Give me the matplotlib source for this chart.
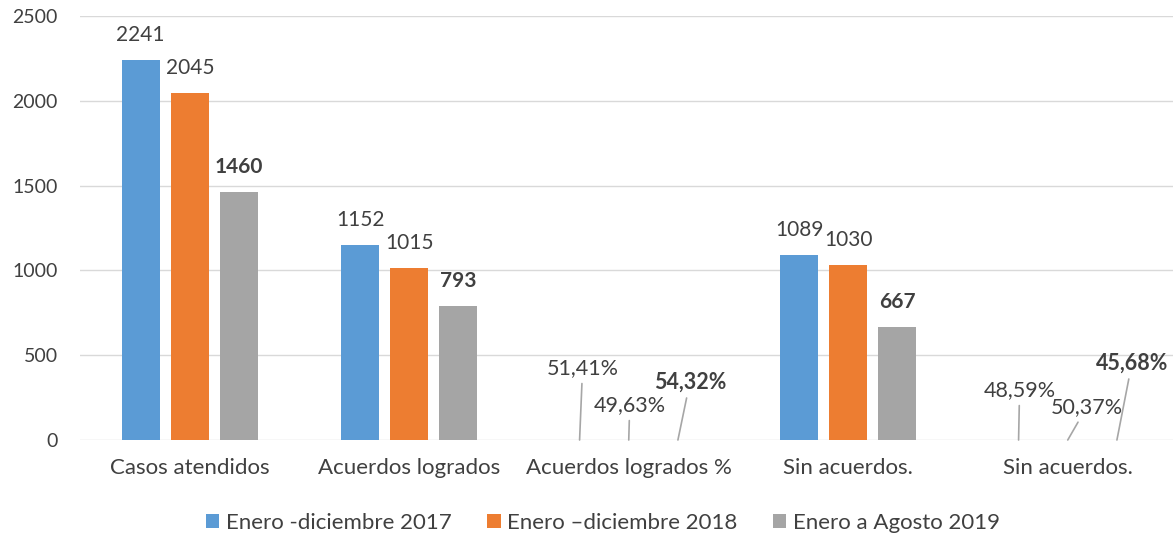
import matplotlib
matplotlib.use("Agg")
import matplotlib.pyplot as plt
import numpy as np

categories = ["Casos atendidos", "Acuerdos logrados", "Acuerdos logrados %", "Sin acuerdos.", "Sin acuerdos."]
series_names = ["Enero -diciembre 2017", "Enero \u2013diciembre 2018", "Enero a Agosto 2019"]
s2017 = [2241, 1152, 0.5141, 1089, 0.4859]
s2018 = [2045, 1015, 0.4963, 1030, 0.5037]
s2019 = [1460, 793, 0.5432, 667, 0.4568]
colors = ["#5B9BD5", "#ED7D31", "#A5A5A5"]
pct_categories = [2, 4]

plt.rcParams['font.family'] = ['Lato', 'DejaVu Sans']
TXT = "#404040"

fig = plt.figure(figsize=(11.73, 5.38), dpi=100)
ax = fig.add_axes([80/1173, 1-440/538, 1097.5/1173, 424/538])
ax.set_xlim(-0.5, 4.5)
ax.set_ylim(0, 2500)

x = np.arange(len(categories))
step = 0.224
width = 0.173
all_series = [s2017, s2018, s2019]

# percentage label offsets (pixels) for each pct category and series
pct_offsets = {
    2: [(3, 72), (1, 35), (12, 58)],
    4: [(1, 50), (19, 33), (15, 77)],
}

for i, (vals, name, c) in enumerate(zip(all_series, series_names, colors)):
    xs = x + (i - 1) * step
    ax.bar(xs, vals, width=width, color=c, label=name, zorder=3)
    weight = 'bold' if i == 2 else 'normal'
    for j, (xx, v) in enumerate(zip(xs, vals)):
        if j in pct_categories:
            txt = f"{v*100:.2f}%".replace('.', ',')
            ox, oy = pct_offsets[j][i]
            ax.annotate(txt, xy=(xx, 0), xytext=(ox, oy), textcoords='offset pixels',
                        ha='center', va='center', fontsize=15.5, color=TXT, fontweight=weight,
                        arrowprops=dict(arrowstyle='-', color='#A6A6A6', lw=1.2,
                                        shrinkA=2, shrinkB=0), zorder=5)
        else:
            ax.annotate(f"{v:d}", xy=(xx, v), xytext=(0, 25), textcoords='offset pixels',
                        ha='center', va='center', fontsize=15, color=TXT, fontweight=weight)

ax.set_yticks([0, 500, 1000, 1500, 2000, 2500])
ax.grid(axis='y', color='#D9D9D9', lw=1, zorder=0)
ax.set_xticks(x)
ax.set_xticklabels(categories)
ax.tick_params(axis='both', length=0, colors=TXT)
ax.tick_params(axis='y', pad=16, labelsize=14)
ax.tick_params(axis='x', pad=13, labelsize=16)
for s in ax.spines.values():
    s.set_visible(False)

fig.legend(loc='center', bbox_to_anchor=(603/1173, 1-523/538), ncol=3, frameon=False,
           fontsize=16, handlelength=0.6, handleheight=0.6, handletextpad=0.3,
           columnspacing=1.6, labelcolor=TXT)

fig.savefig("out.png", dpi=100)
